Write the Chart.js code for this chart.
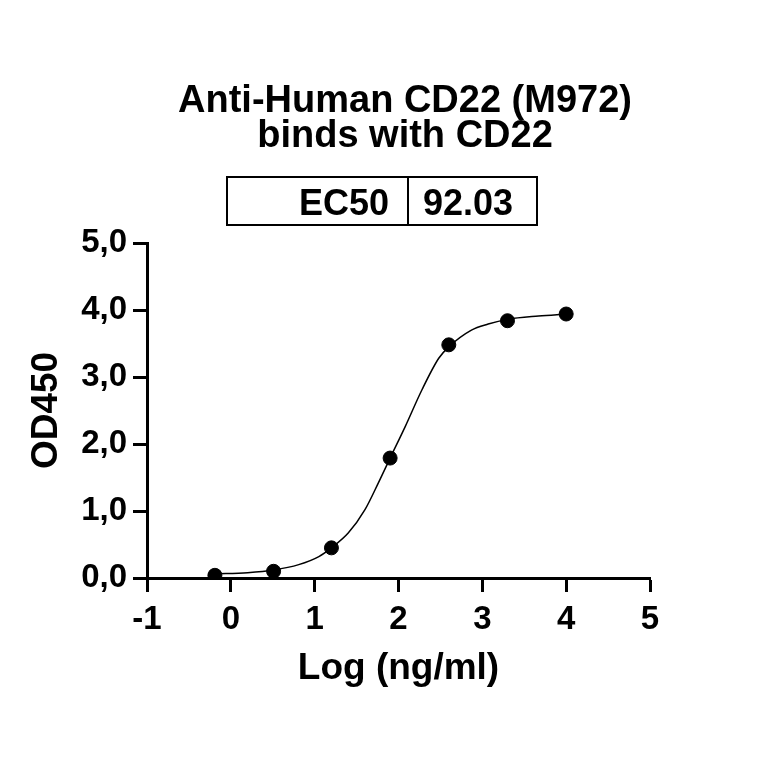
<!DOCTYPE html>
<html>
<head>
<meta charset="utf-8">
<script src="https://cdn.jsdelivr.net/npm/chart.js@4.4.1/dist/chart.umd.min.js"></script>
<style>
  html, body { margin: 0; padding: 0; background: #fff; }
  #wrap { width: 764px; height: 764px; }
</style>
</head>
<body>
<div id="wrap"><canvas id="c" width="764" height="764"></canvas></div>
<script>
// measured points: log concentration vs OD450
const logConc = [-0.19, 0.51, 1.2, 1.9, 2.6, 3.3, 4.0];
const od450 = [0.04, 0.10, 0.45, 1.79, 3.48, 3.84, 3.94];

// fitted curve
const fitX = [-0.19, 0.2, 0.51, 0.81, 1.05, 1.2, 1.4, 1.6, 1.76, 1.9, 2.08, 2.28, 2.48, 2.6, 2.87, 3.07, 3.3, 3.67, 4.0];
const fitY = [0.06, 0.08, 0.12, 0.2, 0.32, 0.45, 0.67, 1.02, 1.42, 1.79, 2.26, 2.81, 3.28, 3.45, 3.7, 3.79, 3.86, 3.91, 3.94];

const titleLines = ['Anti-Human CD22 (M972)', 'binds with CD22'];
const ec50Label = 'EC50';
const ec50Value = '92.03';

const FONT = '"Liberation Sans", Arial, Helvetica, sans-serif';

const headerPlugin = {
  id: 'header',
  afterDraw(chart) {
    const ctx = chart.ctx;
    ctx.save();
    ctx.fillStyle = '#000';
    ctx.font = 'bold 38px ' + FONT;
    ctx.textAlign = 'center';
    ctx.textBaseline = 'alphabetic';
    ctx.fillText(titleLines[0], 405, 112);
    ctx.fillText(titleLines[1], 405, 147);

    // EC50 box
    ctx.lineWidth = 2;
    ctx.strokeStyle = '#000';
    ctx.strokeRect(227, 177, 310, 48);
    ctx.beginPath();
    ctx.moveTo(408, 177);
    ctx.lineTo(408, 225);
    ctx.stroke();
    ctx.font = 'bold 36px ' + FONT;
    ctx.textAlign = 'right';
    ctx.fillText(ec50Label, 389, 215);
    ctx.textAlign = 'left';
    ctx.fillText(ec50Value, 423, 215);
    ctx.restore();
  }
};

const tickFont = { family: FONT, size: 33, weight: 'bold' };
const titleFont = { family: FONT, size: 37, weight: 'bold' };

new Chart(document.getElementById('c'), {
  type: 'scatter',
  data: {
    datasets: [
      {
        label: 'fit',
        data: fitX.map((x, i) => ({ x, y: fitY[i] })),
        showLine: true,
        borderColor: '#000',
        borderWidth: 1.5,
        pointRadius: 0,
        cubicInterpolationMode: 'monotone',
        fill: false
      },
      {
        label: 'OD450',
        data: logConc.map((x, i) => ({ x, y: od450[i] })),
        backgroundColor: '#000',
        borderColor: '#000',
        pointRadius: 7,
        showLine: false
      }
    ]
  },
  options: {
    responsive: false,
    animation: false,
    layout: { padding: { top: 243, right: 114, bottom: 0, left: 0 } },
    plugins: {
      legend: { display: false },
      tooltip: { enabled: false },
      title: { display: false }
    },
    scales: {
      x: {
        type: 'linear',
        min: -1,
        max: 5,
        ticks: { stepSize: 1, color: '#000', font: tickFont, padding: 8 },
        grid: { drawOnChartArea: false, drawTicks: true, tickLength: 14, tickWidth: 3, tickColor: '#000' },
        border: { display: true, color: '#000', width: 3 },
        title: { display: true, text: 'Log (ng/ml)', color: '#000', font: titleFont, padding: { top: 0, bottom: 73 } },
        afterFit(scale) { scale.height = 186; }
      },
      y: {
        type: 'linear',
        min: 0,
        max: 5,
        ticks: {
          stepSize: 1, color: '#000', font: tickFont, padding: 6,
          callback: (v) => v.toFixed(1).replace('.', ',')
        },
        grid: { drawOnChartArea: false, drawTicks: true, tickLength: 14, tickWidth: 3, tickColor: '#000' },
        border: { display: true, color: '#000', width: 3 },
        title: { display: true, text: 'OD450', color: '#000', font: titleFont, padding: { top: 25, bottom: 0 } },
        afterFit(scale) { scale.width = 147; }
      }
    }
  },
  plugins: [headerPlugin]
});
</script>
</body>
</html>
